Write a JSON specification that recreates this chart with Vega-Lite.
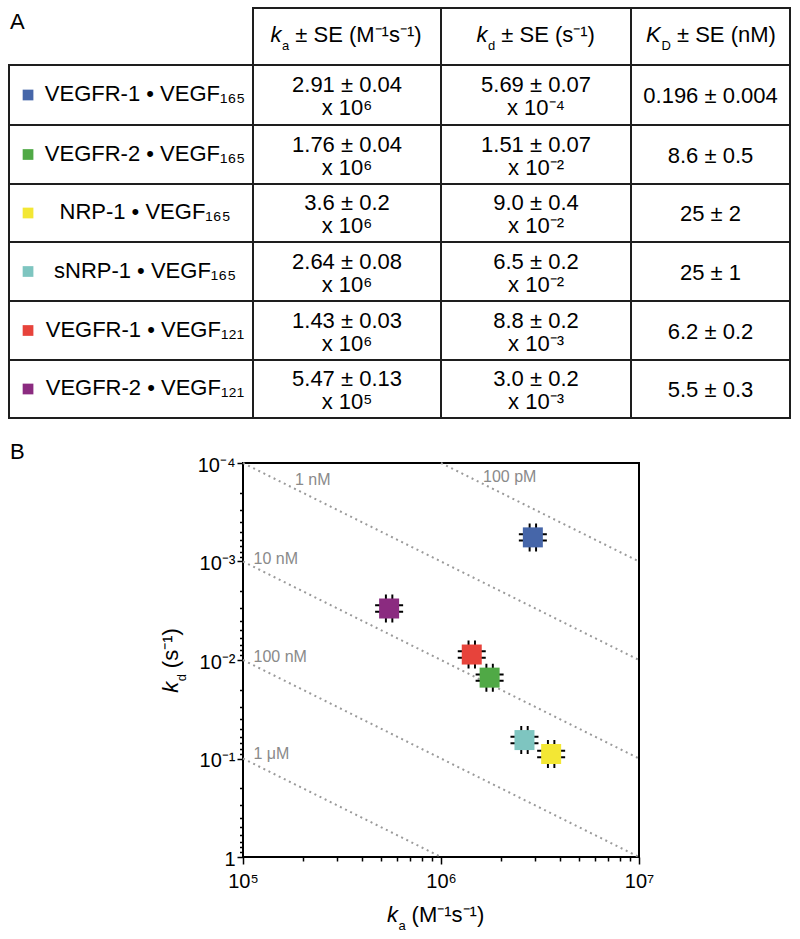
{
  "$schema": "https://vega.github.io/schema/vega-lite/v6.json",
  "width": 396,
  "height": 394,
  "autosize": {"type": "none"},
  "padding": {"left": 243, "top": 463, "right": 161, "bottom": 82},
  "background": "white",
  "config": {"font": "Liberation Sans", "view": {"stroke": "black", "strokeWidth": 2}, "text": {"color": "black"}},
  "datasets": {
    "kin": [
      {"r": 1, "complex": "VEGFR-1 • VEGF₁₆₅", "ka_txt": ["2.91 ± 0.04", "x 10⁶"], "kd_txt": ["5.69 ± 0.07", "x 10⁻⁴"], "KD_txt": "0.196 ± 0.004", "ka_val": 2910000, "kd_val": 0.000569},
      {"r": 2, "complex": "VEGFR-2 • VEGF₁₆₅", "ka_txt": ["1.76 ± 0.04", "x 10⁶"], "kd_txt": ["1.51 ± 0.07", "x 10⁻²"], "KD_txt": "8.6 ± 0.5", "ka_val": 1760000, "kd_val": 0.0151},
      {"r": 3, "complex": "NRP-1 • VEGF₁₆₅", "ka_txt": ["3.6 ± 0.2", "x 10⁶"], "kd_txt": ["9.0 ± 0.4", "x 10⁻²"], "KD_txt": "25 ± 2", "ka_val": 3600000, "kd_val": 0.09},
      {"r": 4, "complex": "sNRP-1 • VEGF₁₆₅", "ka_txt": ["2.64 ± 0.08", "x 10⁶"], "kd_txt": ["6.5 ± 0.2", "x 10⁻²"], "KD_txt": "25 ± 1", "ka_val": 2640000, "kd_val": 0.065},
      {"r": 5, "complex": "VEGFR-1 • VEGF₁₂₁", "ka_txt": ["1.43 ± 0.03", "x 10⁶"], "kd_txt": ["8.8 ± 0.2", "x 10⁻³"], "KD_txt": "6.2 ± 0.2", "ka_val": 1430000, "kd_val": 0.0088},
      {"r": 6, "complex": "VEGFR-2 • VEGF₁₂₁", "ka_txt": ["5.47 ± 0.13", "x 10⁵"], "kd_txt": ["3.0 ± 0.2", "x 10⁻³"], "KD_txt": "5.5 ± 0.3", "ka_val": 547000, "kd_val": 0.003}
    ],
    "cells": [
      {"c0": 0.5, "c1": 1.5, "r0": -0.5, "r1": 0.5},
      {"c0": 1.5, "c1": 2.5, "r0": -0.5, "r1": 0.5},
      {"c0": 2.5, "c1": 3.5, "r0": -0.5, "r1": 0.5},
      {"c0": -0.5, "c1": 0.5, "r0": 0.5, "r1": 1.5},
      {"c0": 0.5, "c1": 1.5, "r0": 0.5, "r1": 1.5},
      {"c0": 1.5, "c1": 2.5, "r0": 0.5, "r1": 1.5},
      {"c0": 2.5, "c1": 3.5, "r0": 0.5, "r1": 1.5},
      {"c0": -0.5, "c1": 0.5, "r0": 1.5, "r1": 2.5},
      {"c0": 0.5, "c1": 1.5, "r0": 1.5, "r1": 2.5},
      {"c0": 1.5, "c1": 2.5, "r0": 1.5, "r1": 2.5},
      {"c0": 2.5, "c1": 3.5, "r0": 1.5, "r1": 2.5},
      {"c0": -0.5, "c1": 0.5, "r0": 2.5, "r1": 3.5},
      {"c0": 0.5, "c1": 1.5, "r0": 2.5, "r1": 3.5},
      {"c0": 1.5, "c1": 2.5, "r0": 2.5, "r1": 3.5},
      {"c0": 2.5, "c1": 3.5, "r0": 2.5, "r1": 3.5},
      {"c0": -0.5, "c1": 0.5, "r0": 3.5, "r1": 4.5},
      {"c0": 0.5, "c1": 1.5, "r0": 3.5, "r1": 4.5},
      {"c0": 1.5, "c1": 2.5, "r0": 3.5, "r1": 4.5},
      {"c0": 2.5, "c1": 3.5, "r0": 3.5, "r1": 4.5},
      {"c0": -0.5, "c1": 0.5, "r0": 4.5, "r1": 5.5},
      {"c0": 0.5, "c1": 1.5, "r0": 4.5, "r1": 5.5},
      {"c0": 1.5, "c1": 2.5, "r0": 4.5, "r1": 5.5},
      {"c0": 2.5, "c1": 3.5, "r0": 4.5, "r1": 5.5},
      {"c0": -0.5, "c1": 0.5, "r0": 5.5, "r1": 6.5},
      {"c0": 0.5, "c1": 1.5, "r0": 5.5, "r1": 6.5},
      {"c0": 1.5, "c1": 2.5, "r0": 5.5, "r1": 6.5},
      {"c0": 2.5, "c1": 3.5, "r0": 5.5, "r1": 6.5}
    ],
    "iso": [
      {"name": "1 μM", "ka": 100000, "kd": 0.1},
      {"name": "1 μM", "ka": 1000000, "kd": 1},
      {"name": "100 nM", "ka": 100000, "kd": 0.01},
      {"name": "100 nM", "ka": 10000000, "kd": 1},
      {"name": "10 nM", "ka": 100000, "kd": 0.001},
      {"name": "10 nM", "ka": 10000000, "kd": 0.1},
      {"name": "1 nM", "ka": 100000, "kd": 0.0001},
      {"name": "1 nM", "ka": 10000000, "kd": 0.01},
      {"name": "100 pM", "ka": 1000000, "kd": 0.0001},
      {"name": "100 pM", "ka": 10000000, "kd": 0.001}
    ],
    "isoLabels": [
      {"name": "1 nM", "ka": 183000, "kd": 0.000167},
      {"name": "100 pM", "ka": 1630000, "kd": 0.000157},
      {"name": "10 nM", "ka": 113000, "kd": 0.00106},
      {"name": "100 nM", "ka": 113000, "kd": 0.0105},
      {"name": "1 μM", "ka": 113000, "kd": 0.102}
    ]
  },
  "layer": [
    {
      "layer": [
        {
          "data": {"name": "cells"},
          "mark": {"type": "rect", "filled": false, "stroke": "#1e1e1e", "strokeWidth": 2},
          "encoding": {
            "x": {"field": "c0", "type": "quantitative", "axis": null, "scale": {"type": "linear", "domain": [-0.5, 0.5, 1.5, 2.5, 3.5], "range": [-234, 10, 198, 388, 547], "nice": false, "zero": false}},
            "x2": {"field": "c1"},
            "y": {"field": "r0", "type": "quantitative", "axis": null, "scale": {"type": "linear", "domain": [-0.5, 0.5, 1.5, 2.5, 3.5, 4.5, 5.5, 6.5], "range": [-455, -398, -338, -279, -221, -162, -103, -45], "nice": false, "zero": false}},
            "y2": {"field": "r1"}
          }
        },
        {
          "data": {"name": "kin"},
          "mark": {"type": "point", "shape": "square", "filled": true, "size": 115, "opacity": 1},
          "encoding": {
            "x": {"datum": -0.422, "type": "quantitative", "axis": null},
            "y": {"field": "r", "type": "quantitative", "axis": null},
            "color": {"field": "complex", "type": "nominal", "legend": null, "scale": {"domain": ["VEGFR-1 • VEGF₁₆₅", "VEGFR-2 • VEGF₁₆₅", "NRP-1 • VEGF₁₆₅", "sNRP-1 • VEGF₁₆₅", "VEGFR-1 • VEGF₁₂₁", "VEGFR-2 • VEGF₁₂₁"], "range": ["#4666A9", "#50A946", "#F3E734", "#7EC5C0", "#E7433B", "#8B2B80"]}}
          }
        },
        {
          "data": {"name": "kin"},
          "mark": {"type": "text", "fontSize": 22, "align": "center", "baseline": "alphabetic", "dx": 14, "dy": 6},
          "encoding": {
            "x": {"datum": 0, "type": "quantitative", "axis": null},
            "y": {"field": "r", "type": "quantitative", "axis": null},
            "text": {"field": "complex"}
          }
        },
        {
          "data": {"name": "kin"},
          "mark": {"type": "text", "fontSize": 22, "align": "center", "baseline": "alphabetic", "dy": -3, "lineHeight": 23},
          "encoding": {
            "x": {"datum": 1, "type": "quantitative", "axis": null},
            "y": {"field": "r", "type": "quantitative", "axis": null},
            "text": {"field": "ka_txt"}
          }
        },
        {
          "data": {"name": "kin"},
          "mark": {"type": "text", "fontSize": 22, "align": "center", "baseline": "alphabetic", "dy": -3, "lineHeight": 23},
          "encoding": {
            "x": {"datum": 2, "type": "quantitative", "axis": null},
            "y": {"field": "r", "type": "quantitative", "axis": null},
            "text": {"field": "kd_txt"}
          }
        },
        {
          "data": {"name": "kin"},
          "mark": {"type": "text", "fontSize": 22, "align": "center", "baseline": "alphabetic", "dy": 8},
          "encoding": {
            "x": {"datum": 3, "type": "quantitative", "axis": null},
            "y": {"field": "r", "type": "quantitative", "axis": null},
            "text": {"field": "KD_txt"}
          }
        },
        {
          "data": {"values": [{"t": "k"}]},
          "mark": {"type": "text", "fontSize": 22, "fontStyle": "italic", "align": "right", "baseline": "alphabetic", "dx": -65.6, "dy": 5},
          "encoding": {"x": {"datum": 1, "type": "quantitative", "axis": null}, "y": {"datum": 0, "type": "quantitative", "axis": null}, "text": {"field": "t"}}
        },
        {
          "data": {"values": [{"t": "a"}]},
          "mark": {"type": "text", "fontSize": 13, "align": "left", "baseline": "alphabetic", "dx": -65, "dy": 13},
          "encoding": {"x": {"datum": 1, "type": "quantitative", "axis": null}, "y": {"datum": 0, "type": "quantitative", "axis": null}, "text": {"field": "t"}}
        },
        {
          "data": {"values": [{"t": "± SE (M⁻¹s⁻¹)"}]},
          "mark": {"type": "text", "fontSize": 22, "align": "left", "baseline": "alphabetic", "dx": -51.7, "dy": 5},
          "encoding": {"x": {"datum": 1, "type": "quantitative", "axis": null}, "y": {"datum": 0, "type": "quantitative", "axis": null}, "text": {"field": "t"}}
        },
        {
          "data": {"values": [{"t": "k"}]},
          "mark": {"type": "text", "fontSize": 22, "fontStyle": "italic", "align": "right", "baseline": "alphabetic", "dx": -48.6, "dy": 5},
          "encoding": {"x": {"datum": 2, "type": "quantitative", "axis": null}, "y": {"datum": 0, "type": "quantitative", "axis": null}, "text": {"field": "t"}}
        },
        {
          "data": {"values": [{"t": "d"}]},
          "mark": {"type": "text", "fontSize": 13, "align": "left", "baseline": "alphabetic", "dx": -48, "dy": 13},
          "encoding": {"x": {"datum": 2, "type": "quantitative", "axis": null}, "y": {"datum": 0, "type": "quantitative", "axis": null}, "text": {"field": "t"}}
        },
        {
          "data": {"values": [{"t": "± SE (s⁻¹)"}]},
          "mark": {"type": "text", "fontSize": 22, "align": "left", "baseline": "alphabetic", "dx": -34.7, "dy": 5},
          "encoding": {"x": {"datum": 2, "type": "quantitative", "axis": null}, "y": {"datum": 0, "type": "quantitative", "axis": null}, "text": {"field": "t"}}
        },
        {
          "data": {"values": [{"t": "K"}]},
          "mark": {"type": "text", "fontSize": 22, "fontStyle": "italic", "align": "right", "baseline": "alphabetic", "dx": -49.8, "dy": 5},
          "encoding": {"x": {"datum": 3, "type": "quantitative", "axis": null}, "y": {"datum": 0, "type": "quantitative", "axis": null}, "text": {"field": "t"}}
        },
        {
          "data": {"values": [{"t": "D"}]},
          "mark": {"type": "text", "fontSize": 13, "align": "left", "baseline": "alphabetic", "dx": -49, "dy": 13},
          "encoding": {"x": {"datum": 3, "type": "quantitative", "axis": null}, "y": {"datum": 0, "type": "quantitative", "axis": null}, "text": {"field": "t"}}
        },
        {
          "data": {"values": [{"t": "± SE (nM)"}]},
          "mark": {"type": "text", "fontSize": 22, "align": "left", "baseline": "alphabetic", "dx": -33.5, "dy": 5},
          "encoding": {"x": {"datum": 3, "type": "quantitative", "axis": null}, "y": {"datum": 0, "type": "quantitative", "axis": null}, "text": {"field": "t"}}
        },
        {
          "data": {"values": [{"t": "A"}]},
          "mark": {"type": "text", "fontSize": 22, "align": "left", "baseline": "alphabetic", "dx": 1, "dy": 21},
          "encoding": {"x": {"datum": -0.5, "type": "quantitative", "axis": null}, "y": {"datum": -0.5, "type": "quantitative", "axis": null}, "text": {"field": "t"}}
        },
        {
          "data": {"values": [{"t": "B"}]},
          "mark": {"type": "text", "fontSize": 22, "align": "left", "baseline": "alphabetic", "dx": 1, "dy": 41},
          "encoding": {"x": {"datum": -0.5, "type": "quantitative", "axis": null}, "y": {"datum": 6.5, "type": "quantitative", "axis": null}, "text": {"field": "t"}}
        }
      ]
    },
    {
      "layer": [
        {
          "data": {"name": "iso"},
          "mark": {"type": "line", "color": "#9a9a9a", "strokeWidth": 2, "strokeDash": [2, 3.7]},
          "encoding": {
            "x": {"field": "ka", "type": "quantitative", "axis": null, "scale": {"type": "log", "domain": [100000, 10000000], "nice": false}},
            "y": {"field": "kd", "type": "quantitative", "axis": null, "scale": {"type": "log", "domain": [0.0001, 1], "nice": false, "reverse": true}},
            "detail": {"field": "name"}
          }
        },
        {
          "data": {"name": "isoLabels"},
          "mark": {"type": "text", "fontSize": 16, "color": "#8a8a8a", "align": "left", "baseline": "alphabetic"},
          "encoding": {
            "x": {"field": "ka", "type": "quantitative", "axis": null, "scale": {"type": "log", "domain": [100000, 10000000], "nice": false}},
            "y": {"field": "kd", "type": "quantitative", "axis": null, "scale": {"type": "log", "domain": [0.0001, 1], "nice": false, "reverse": true}},
            "text": {"field": "name"}
          }
        },
        {
          "data": {"name": "kin"},
          "mark": {"type": "point", "filled": true, "opacity": 1, "color": "black", "size": 784, "shape": "M-0.3,-1H-0.16V-0.65H-0.3Z M0.16,-1H0.3V-0.65H0.16Z M-0.3,0.65H-0.16V1H-0.3Z M0.16,0.65H0.3V1H0.16Z M-1,-0.3H-0.65V-0.16H-1Z M-1,0.16H-0.65V0.3H-1Z M0.65,-0.3H1V-0.16H0.65Z M0.65,0.16H1V0.3H0.65Z"},
          "encoding": {
            "x": {"field": "ka_val", "type": "quantitative", "axis": null, "scale": {"type": "log", "domain": [100000, 10000000], "nice": false}},
            "y": {"field": "kd_val", "type": "quantitative", "axis": null, "scale": {"type": "log", "domain": [0.0001, 1], "nice": false, "reverse": true}}
          }
        },
        {
          "data": {"values": [{"t": "k"}]},
          "mark": {"type": "text", "fontSize": 22, "fontStyle": "italic", "align": "right", "baseline": "alphabetic", "dx": -43, "dy": 65},
          "encoding": {"x": {"datum": 1000000, "type": "quantitative", "axis": null}, "y": {"datum": 1, "type": "quantitative", "axis": null}, "text": {"field": "t"}}
        },
        {
          "data": {"values": [{"t": "a"}]},
          "mark": {"type": "text", "fontSize": 13, "align": "left", "baseline": "alphabetic", "dx": -42.5, "dy": 73},
          "encoding": {"x": {"datum": 1000000, "type": "quantitative", "axis": null}, "y": {"datum": 1, "type": "quantitative", "axis": null}, "text": {"field": "t"}}
        },
        {
          "data": {"values": [{"t": "(M⁻¹s⁻¹)"}]},
          "mark": {"type": "text", "fontSize": 22, "align": "left", "baseline": "alphabetic", "dx": -29.4, "dy": 65},
          "encoding": {"x": {"datum": 1000000, "type": "quantitative", "axis": null}, "y": {"datum": 1, "type": "quantitative", "axis": null}, "text": {"field": "t"}}
        },
        {
          "data": {"values": [{"t": "k"}]},
          "mark": {"type": "text", "fontSize": 22, "fontStyle": "italic", "angle": 270, "align": "right", "baseline": "alphabetic", "dx": -21.8, "dy": -65},
          "encoding": {"x": {"datum": 100000, "type": "quantitative", "axis": null}, "y": {"datum": 0.01, "type": "quantitative", "axis": null}, "text": {"field": "t"}}
        },
        {
          "data": {"values": [{"t": "d"}]},
          "mark": {"type": "text", "fontSize": 13, "angle": 270, "align": "left", "baseline": "alphabetic", "dx": -21.3, "dy": -57},
          "encoding": {"x": {"datum": 100000, "type": "quantitative", "axis": null}, "y": {"datum": 0.01, "type": "quantitative", "axis": null}, "text": {"field": "t"}}
        },
        {
          "data": {"values": [{"t": "(s⁻¹)"}]},
          "mark": {"type": "text", "fontSize": 22, "angle": 270, "align": "left", "baseline": "alphabetic", "dx": -8.2, "dy": -65},
          "encoding": {"x": {"datum": 100000, "type": "quantitative", "axis": null}, "y": {"datum": 0.01, "type": "quantitative", "axis": null}, "text": {"field": "t"}}
        }
      ]
    },
    {
      "data": {"name": "kin"},
      "mark": {"type": "point", "shape": "square", "filled": true, "opacity": 1, "size": 400},
      "encoding": {
        "x": {
          "field": "ka_val", "type": "quantitative",
          "scale": {"type": "log", "domain": [100000, 10000000], "nice": false},
          "axis": {
            "orient": "bottom", "title": null, "grid": false, "domain": false,
            "values": [100000, 1000000, 10000000],
            "labelExpr": "datum.value == 100000 ? '10⁵' : datum.value == 1000000 ? '10⁶' : '10⁷'",
            "tickSize": 7, "tickColor": "black", "tickWidth": 1.5, "labelFontSize": 20, "labelColor": "black", "labelPadding": 7, "labelOverlap": false, "labelFlush": false, "labelBound": false
          }
        },
        "y": {
          "field": "kd_val", "type": "quantitative",
          "scale": {"type": "log", "domain": [0.0001, 1], "nice": false, "reverse": true},
          "axis": {
            "orient": "left", "title": null, "grid": false, "domain": false,
            "values": [0.0001, 0.001, 0.01, 0.1, 1],
            "labelExpr": "datum.value == 0.0001 ? '10⁻⁴' : datum.value == 0.001 ? '10⁻³' : datum.value == 0.01 ? '10⁻²' : datum.value == 0.1 ? '10⁻¹' : '1'",
            "tickSize": 6, "tickColor": "black", "tickWidth": 1.5, "labelFontSize": 20, "labelColor": "black", "labelPadding": 2, "labelOffset": 2, "labelOverlap": false, "labelFlush": false, "labelBound": false
          }
        },
        "color": {"field": "complex", "type": "nominal", "legend": null, "scale": {"domain": ["VEGFR-1 • VEGF₁₆₅", "VEGFR-2 • VEGF₁₆₅", "NRP-1 • VEGF₁₆₅", "sNRP-1 • VEGF₁₆₅", "VEGFR-1 • VEGF₁₂₁", "VEGFR-2 • VEGF₁₂₁"], "range": ["#4666A9", "#50A946", "#F3E734", "#7EC5C0", "#E7433B", "#8B2B80"]}}
      }
    },
    {
      "data": {"name": "kin"},
      "mark": {"type": "point", "opacity": 0, "size": 1},
      "encoding": {
        "x": {
          "field": "ka_val", "type": "quantitative",
          "scale": {"type": "log", "domain": [100000, 10000000], "nice": false},
          "axis": {
            "orient": "bottom", "title": null, "grid": false, "domain": false, "labels": false,
            "values": [200000, 300000, 400000, 500000, 600000, 700000, 800000, 900000, 2000000, 3000000, 4000000, 5000000, 6000000, 7000000, 8000000, 9000000],
            "tickSize": 4, "tickColor": "black", "tickWidth": 1.5
          }
        },
        "y": {
          "field": "kd_val", "type": "quantitative",
          "scale": {"type": "log", "domain": [0.0001, 1], "nice": false, "reverse": true},
          "axis": {
            "orient": "left", "title": null, "grid": false, "domain": false, "labels": false,
            "values": [0.0002, 0.0003, 0.0004, 0.0005, 0.0006, 0.0007, 0.0008, 0.0009, 0.002, 0.003, 0.004, 0.005, 0.006, 0.007, 0.008, 0.009, 0.02, 0.03, 0.04, 0.05, 0.06, 0.07, 0.08, 0.09, 0.2, 0.3, 0.4, 0.5, 0.6, 0.7, 0.8, 0.9],
            "tickSize": 3.5, "tickColor": "black", "tickWidth": 1.5
          }
        }
      }
    }
  ],
  "resolve": {"scale": {"x": "independent", "y": "independent"}, "axis": {"x": "independent", "y": "independent"}}
}
